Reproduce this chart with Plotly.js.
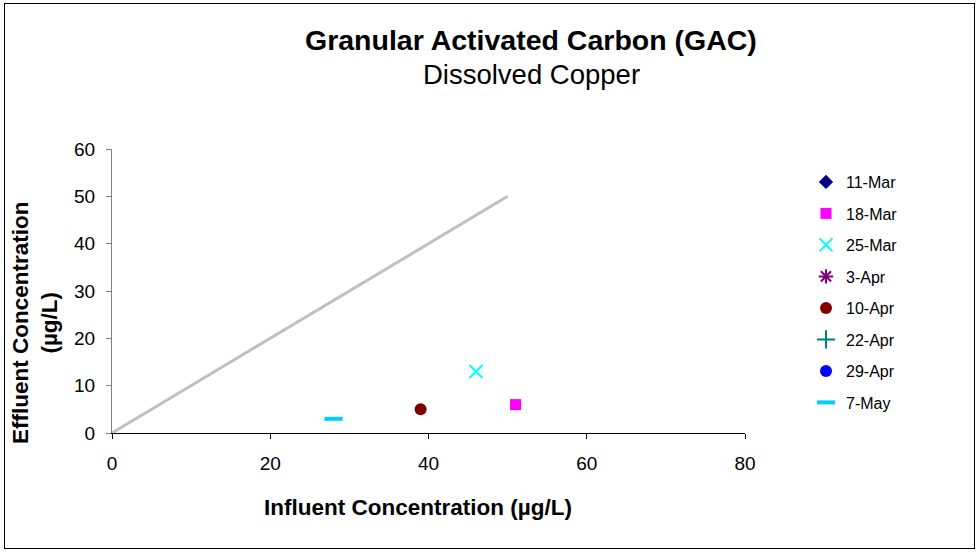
<!DOCTYPE html>
<html>
<head>
<meta charset="utf-8">
<script src="https://cdn.plot.ly/plotly-3.0.1.min.js"></script>
<style>
  html, body { margin: 0; padding: 0; background: #fff; }
  #wrap { position: relative; width: 979px; height: 552px; }
  #chart { width: 979px; height: 552px; }
  #frame { position: absolute; left: 4px; top: 3px; width: 969px; height: 544px; border: 1px solid #000; pointer-events: none; }
</style>
</head>
<body>
<div id="wrap">
  <div id="chart"></div>
  <div id="frame"></div>
</div>
<script>
const dates = ["11-Mar", "18-Mar", "25-Mar", "3-Apr", "10-Apr", "22-Apr", "29-Apr", "7-May"];
const influent = [null, 51, 46, null, 39, null, null, 28];
const effluent = [null, 6, 13, null, 5, null, null, 3];
const refX = [0, 50];
const refY = [0, 50];
const xTicks = [0, 20, 40, 60, 80];
const yTicks = [0, 10, 20, 30, 40, 50, 60];

const colors = ["#000080", "#FF00FF", "#00FFFF", "#800080", "#800000", "#008080", "#0000FF", "#00CCFF"];
const symbols = ["diamond", "square", "x-thin-open", "asterisk-open", "circle", "cross-thin-open", "circle", "line-ew-open"];
const sizes = [11, 11, 13, 12, 12, 13, 12, 13];
const widths = [0, 0, 2, 2, 0, 2, 0, 4];

const traces = [{
  x: refX, y: refY, mode: "lines", type: "scatter",
  line: { color: "#C0C0C0", width: 3 }, showlegend: false, hoverinfo: "skip"
}];
dates.forEach((d, i) => {
  traces.push({
    x: [influent[i]], y: [effluent[i]], name: d, type: "scatter", mode: "markers",
    legendgroup: "g" + i,
    marker: { symbol: symbols[i], color: colors[i], size: sizes[i],
              line: { color: colors[i], width: widths[i] } }
  });
});

const fam = "Liberation Sans, Arial, sans-serif";
const W = 979, H = 552, ML = 112, MR = 234, MT = 149, MB = 119;
function px2paperX(px) { return (px - ML) / (W - ML - MR); }
function px2paperY(py) { return 1 - (py - MT) / (H - MT - MB); }

const layout = {
  width: W, height: H,
  margin: { l: ML, r: MR, t: MT, b: MB },
  paper_bgcolor: "#fff", plot_bgcolor: "#fff",
  font: { family: fam, color: "#000" },
  showlegend: true,
  legend: {
    xref: "container", yref: "container",
    x: 806 / W, y: 1 - 165 / H, xanchor: "left", yanchor: "top",
    font: { family: fam, size: 16, color: "#000" },
    tracegroupgap: 7.7, bgcolor: "rgba(0,0,0,0)"
  },
  xaxis: {
    range: [0, 80], tickvals: xTicks, ticks: "outside", ticklen: 5, tickcolor: "#000",
    showgrid: false, zeroline: false, showline: true, linecolor: "#000", linewidth: 1,
    ticklabelstandoff: 8,
    tickfont: { family: fam, size: 19, color: "#000" }, fixedrange: true
  },
  yaxis: {
    range: [0, 60], tickvals: yTicks, ticks: "outside", ticklen: 5, tickcolor: "#808080",
    showgrid: false, zeroline: false, showline: true, linecolor: "#808080", linewidth: 1,
    ticklabelstandoff: 7,
    tickfont: { family: fam, size: 19, color: "#000" }, fixedrange: true
  },
  annotations: [
    { text: "<b>Granular Activated Carbon (GAC)</b>",
      x: px2paperX(531), y: px2paperY(40), xanchor: "center", yanchor: "middle", showarrow: false,
      font: { family: fam, size: 28.5, color: "#000" } },
    { text: "Dissolved Copper",
      x: px2paperX(531), y: px2paperY(74), xanchor: "center", yanchor: "middle", showarrow: false,
      font: { family: fam, size: 27.5, color: "#000" } },
    { text: "<b>Influent Concentration (µg/L)</b>",
      x: px2paperX(418), y: px2paperY(507), xanchor: "center", yanchor: "middle", showarrow: false,
      font: { family: fam, size: 22.5, color: "#000" } },
    { text: "<b>Effluent Concentration<br>(µg/L)</b>",
      x: px2paperX(35), y: px2paperY(323), xanchor: "center", yanchor: "middle", showarrow: false,
      textangle: -90,
      font: { family: fam, size: 22.5, color: "#000" } }
  ].map(a => Object.assign({ xref: "paper", yref: "paper" }, a))
};

Plotly.newPlot("chart", traces, layout, { displayModeBar: false, staticPlot: true });
</script>
</body>
</html>
